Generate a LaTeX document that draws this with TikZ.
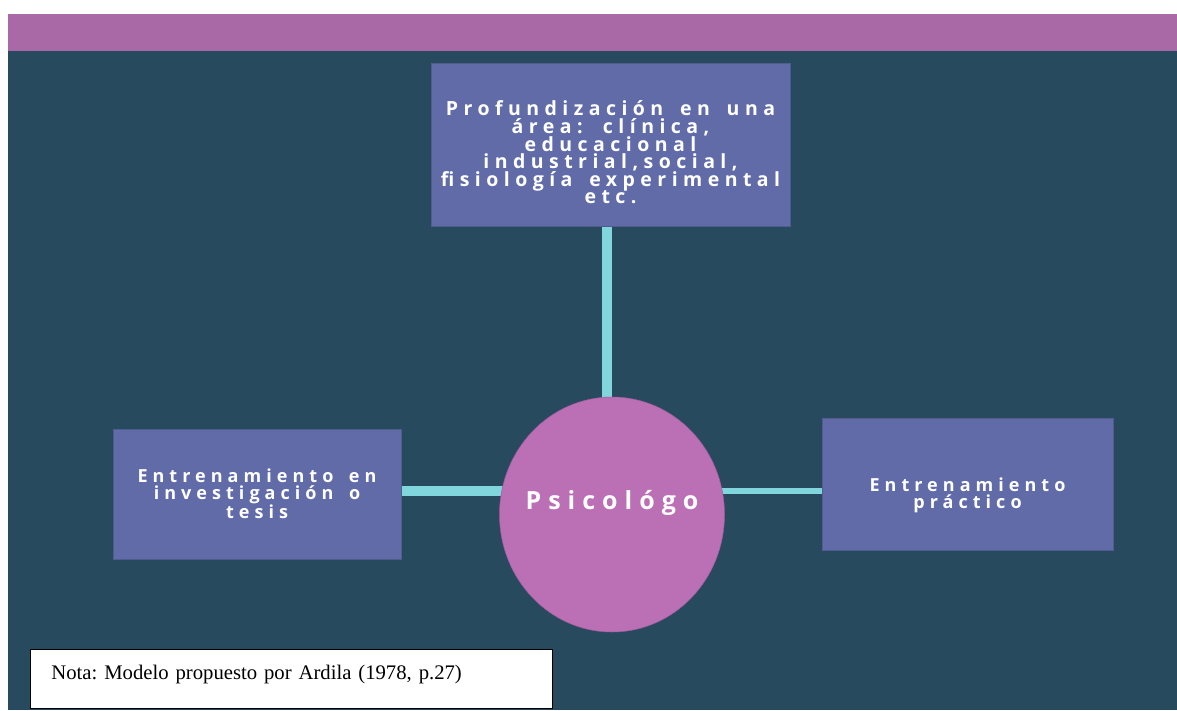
\documentclass[tikz,border=0pt]{standalone}
\usepackage{fontspec}
\setmainfont{Liberation Serif}
\newfontfamily\boxfont[LetterSpace=28,WordSpace=1.6]{Open Sans}
\usetikzlibrary{shapes.geometric}
\definecolor{bandc}{HTML}{A968A6}
\definecolor{bgc}{HTML}{284A5F}
\definecolor{boxc}{HTML}{606BA8}
\definecolor{circc}{HTML}{BB6FB5}
\definecolor{linkc}{HTML}{80D6DC}
\pgfdeclarelayer{bg}
\pgfdeclarelayer{edges}
\pgfsetlayers{bg,edges,main}
\begin{document}
\begin{tikzpicture}[x=1pt,y=-1pt,
  topic/.style={rectangle, draw=boxc!85!black, line width=0.6pt, fill=boxc, text=white, align=center,
    font=\boxfont\bfseries\fontsize{18}{16.7}\selectfont, inner sep=0pt},
  bigtopic/.style={topic, font=\boxfont\bfseries\fontsize{19.5}{17.6}\selectfont},
  hub/.style={ellipse, fill=circc, draw=circc!85!black, line width=0.5pt, inner sep=0pt, text=white,
    font=\boxfont\bfseries\fontsize{25}{25}\selectfont, text height=18pt, text depth=29pt},
  link/.style={draw=linkc, line width=#1},
  note/.style={rectangle, draw=black, line width=0.8pt, fill=white, align=left,
    font=\frenchspacing\fontsize{20.7}{23}\selectfont, inner ysep=0pt, inner xsep=21pt, text width=480pt,
    text height=30pt, text depth=29pt}]
\useasboundingbox (0,0) rectangle (1177,710);
\begin{pgfonlayer}{bg}
  \fill[white] (0,0) rectangle (1177,710);
  \fill[bandc] (8,14) rectangle (1177,51);
  \fill[bgc] (8,51) rectangle (1177,710);
\end{pgfonlayer}

\node[bigtopic, minimum width=359pt, minimum height=163pt] (top) at (610.5,144.5)
  {\rule{0pt}{31pt}Profundización en una\\ área: clínica,\\ educacional\\ industrial,social,\\ fisiología experimental\\ etc.};
\node[topic, minimum width=288pt, minimum height=130pt] (left) at (257,494)
  {Entrenamiento en\\ investigación o\\ tesis};
\node[topic, minimum width=291pt, minimum height=132pt] (right) at (967.5,484)
  {\rule{0pt}{36pt}Entrenamiento\\ práctico};
\node[hub, minimum width=225pt, minimum height=235pt] (hub) at (612,514.5) {\makebox[120pt]{Psicológo}};
\node[note, anchor=north west] (nota) at (30,649) {Nota: Modelo propuesto por Ardila (1978, p.27)};

\coordinate (vx) at (607,0);
\coordinate (hy) at (0,491);
\begin{pgfonlayer}{edges}
  \draw[link=10pt] (top.south -| vx) -- (hub.center -| vx);
  \draw[link=9.5pt] (left.east |- hy) -- (hub.center |- hy);
  \draw[link=6.5pt] (hub.center |- hy) -- (right.west |- hy);
\end{pgfonlayer}
\end{tikzpicture}
\end{document}
